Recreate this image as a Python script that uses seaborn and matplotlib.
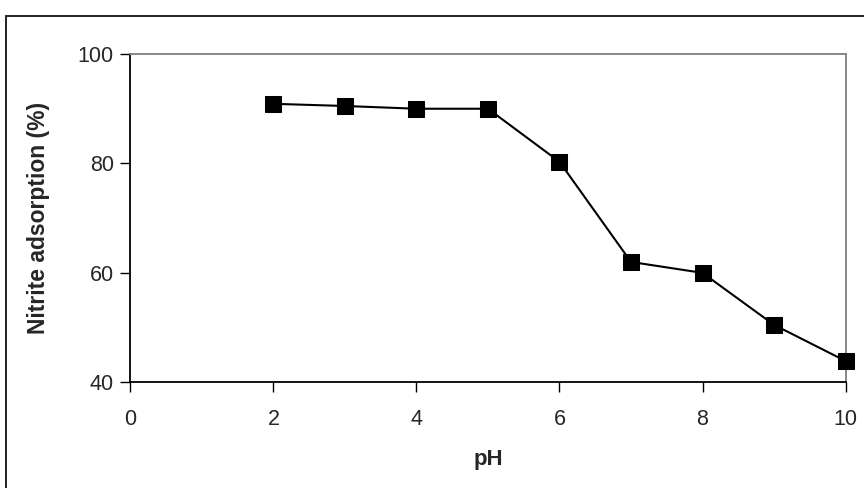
import matplotlib
matplotlib.use("Agg")
import matplotlib.pyplot as plt
from matplotlib.lines import Line2D
import seaborn as sns
import pandas as pd

# Nitrite adsorption versus solution pH
ph = [2, 3, 4, 5, 6, 7, 8, 9, 10]
adsorption = [90.9, 90.5, 90.0, 90.0, 80.3, 62.0, 60.0, 50.5, 43.9]

x_ticks = [0, 2, 4, 6, 8, 10]
y_ticks = [40, 60, 80, 100]

df = pd.DataFrame({"pH": ph, "adsorption": adsorption})

sns.set_style("white")
plt.rcParams["font.family"] = ["Liberation Sans", "DejaVu Sans"]

fig = plt.figure(figsize=(8.64, 4.88), dpi=100)
ax = fig.add_axes([0.151, 0.2166, 0.8276, 0.6727])

sns.lineplot(data=df, x="pH", y="adsorption", ax=ax, color="black",
             linewidth=1.5, marker="s", markersize=12,
             markerfacecolor="black", markeredgecolor="black",
             clip_on=False, zorder=5)

ax.set_xlim(0, 10)
ax.set_ylim(40, 100)
ax.set_xticks(x_ticks)
ax.set_yticks(y_ticks)
ax.tick_params(axis="both", which="major", bottom=True, left=True,
               direction="out", length=7, width=1,
               color="black", labelsize=15.5)
ax.tick_params(axis="x", pad=12)
ax.tick_params(axis="y", pad=5)
for side in ("left", "bottom"):
    ax.spines[side].set_color("black")
    ax.spines[side].set_linewidth(1.3)
for side in ("top", "right"):
    ax.spines[side].set_color("#7f7f7f")
    ax.spines[side].set_linewidth(1.3)

ax.set_xlabel("pH", fontsize=16, fontweight="bold", labelpad=14)
ax.set_ylabel("Nitrite adsorption (%)", fontsize=16.5, fontweight="bold",
              labelpad=20)

# outer chart-area border (top and left edges)
fig.add_artist(Line2D([6 / 864, 1.0], [1 - 16 / 488, 1 - 16 / 488],
                      transform=fig.transFigure, color="#222222", lw=1.4))
fig.add_artist(Line2D([6 / 864, 6 / 864], [0.0, 1 - 16 / 488],
                      transform=fig.transFigure, color="#222222", lw=1.4))

fig.savefig("out.png", dpi=100)
